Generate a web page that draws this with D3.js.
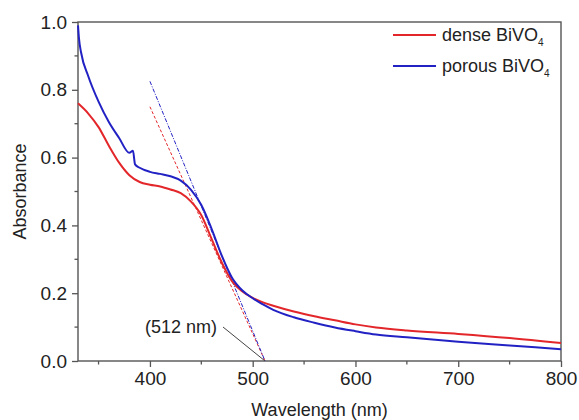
<!DOCTYPE html>
<html>
<head>
<meta charset="utf-8">
<script src="https://cdn.jsdelivr.net/npm/d3@7"></script>
<style>
  body { margin: 0; background: #fff; }
  text { font-family: Arial, "Liberation Sans", sans-serif; fill: #222; }
</style>
</head>
<body>
<svg id="chart" width="579" height="420"></svg>
<script>
// wavelength (nm) / absorbance
const denseWl  = [330, 340, 350, 360, 370, 380, 390, 400, 410, 420, 430, 440, 450, 460, 470, 480, 490, 500, 510, 520, 540, 560, 580, 600, 620, 650, 700, 750, 800];
const denseAbs = [0.76, 0.73, 0.69, 0.635, 0.585, 0.548, 0.528, 0.52, 0.515, 0.506, 0.495, 0.47, 0.43, 0.36, 0.29, 0.235, 0.205, 0.186, 0.173, 0.163, 0.146, 0.132, 0.12, 0.108, 0.099, 0.09, 0.08, 0.068, 0.053];

const porousWl  = [330, 331, 333, 340, 350, 360, 370, 380, 383.5, 385.5, 390, 400, 410, 420, 430, 440, 450, 460, 470, 480, 490, 500, 510, 520, 540, 560, 580, 600, 620, 650, 700, 750, 800];
const porousAbs = [0.99, 0.95, 0.91, 0.84, 0.765, 0.705, 0.658, 0.614, 0.62, 0.58, 0.57, 0.558, 0.552, 0.545, 0.532, 0.505, 0.46, 0.39, 0.31, 0.245, 0.208, 0.185, 0.167, 0.151, 0.129, 0.113, 0.099, 0.088, 0.078, 0.07, 0.057, 0.046, 0.035];

// tangent lines to the absorption edge, meeting the baseline at 512 nm
const tangentWl = [400, 512];
const denseTangent = [0.75, 0];
const porousTangent = [0.825, 0];

const xTicks = [400, 500, 600, 700, 800];
const yTicks = [0.0, 0.2, 0.4, 0.6, 0.8, 1.0];

const width = 579, height = 420;
const margin = { top: 22, right: 18, bottom: 59, left: 78 };

const red = "#e3262a";
const blue = "#2222c4";
const axisColor = "#555";

const svg = d3.select("#chart");

const x = d3.scaleLinear().domain([330, 800]).range([margin.left, width - margin.right]);
const y = d3.scaleLinear().domain([0, 1]).range([height - margin.bottom, margin.top]);

// frame
svg.append("rect")
  .attr("x", margin.left)
  .attr("y", margin.top)
  .attr("width", width - margin.left - margin.right)
  .attr("height", height - margin.top - margin.bottom)
  .attr("fill", "none")
  .attr("stroke", axisColor)
  .attr("stroke-width", 1.4);

// x axis
const xAxis = svg.append("g")
  .attr("transform", `translate(0,${height - margin.bottom})`)
  .call(d3.axisBottom(x).tickValues(xTicks).tickSize(6).tickPadding(5).tickFormat(d3.format("d")));
xAxis.select(".domain").remove();
xAxis.selectAll("line").attr("stroke", axisColor).attr("stroke-width", 1.3);
xAxis.selectAll("text").attr("font-size", 19).attr("fill", "#222");

svg.append("g")
  .attr("transform", `translate(0,${height - margin.bottom})`)
  .selectAll("line")
  .data(d3.range(350, 800, 100))
  .join("line")
  .attr("x1", d => x(d)).attr("x2", d => x(d))
  .attr("y1", 0).attr("y2", 3.5)
  .attr("stroke", axisColor).attr("stroke-width", 1.3);

// y axis
const yAxis = svg.append("g")
  .attr("transform", `translate(${margin.left},0)`)
  .call(d3.axisLeft(y).tickValues(yTicks).tickSize(6).tickPadding(5).tickFormat(d3.format(".1f")));
yAxis.select(".domain").remove();
yAxis.selectAll("line").attr("stroke", axisColor).attr("stroke-width", 1.3);
yAxis.selectAll("text").attr("font-size", 19).attr("fill", "#222");

svg.append("g")
  .attr("transform", `translate(${margin.left},0)`)
  .selectAll("line")
  .data(d3.range(0.1, 1, 0.2))
  .join("line")
  .attr("x1", 0).attr("x2", -3.5)
  .attr("y1", d => y(d)).attr("y2", d => y(d))
  .attr("stroke", axisColor).attr("stroke-width", 1.3);

// axis titles
svg.append("text")
  .attr("x", (margin.left + width - margin.right) / 2)
  .attr("y", 416)
  .attr("text-anchor", "middle")
  .attr("font-size", 18)
  .text("Wavelength (nm)");

svg.append("text")
  .attr("transform", `translate(26,${(margin.top + height - margin.bottom) / 2}) rotate(-90)`)
  .attr("text-anchor", "middle")
  .attr("font-size", 18)
  .text("Absorbance");

// tangent lines
const line = d3.line().x(d => x(d[0])).y(d => y(d[1]));

svg.append("path")
  .datum(d3.zip(tangentWl, denseTangent))
  .attr("d", line)
  .attr("fill", "none")
  .attr("stroke", red)
  .attr("stroke-width", 1)
  .attr("stroke-dasharray", "3,2");

svg.append("path")
  .datum(d3.zip(tangentWl, porousTangent))
  .attr("d", line)
  .attr("fill", "none")
  .attr("stroke", blue)
  .attr("stroke-width", 1)
  .attr("stroke-dasharray", "4,1.5,1,1.5");

// spectra
const curve = d3.line().x(d => x(d[0])).y(d => y(d[1])).curve(d3.curveMonotoneX);

svg.append("path")
  .datum(d3.zip(denseWl, denseAbs))
  .attr("d", curve)
  .attr("fill", "none")
  .attr("stroke", red)
  .attr("stroke-width", 2);

svg.append("path")
  .datum(d3.zip(porousWl, porousAbs))
  .attr("d", curve)
  .attr("fill", "none")
  .attr("stroke", blue)
  .attr("stroke-width", 2);

// annotation
svg.append("text")
  .attr("x", 145)
  .attr("y", 333)
  .attr("font-size", 18)
  .text("(512 nm)");

svg.append("line")
  .attr("x1", 223).attr("y1", 327)
  .attr("x2", x(512)).attr("y2", y(0))
  .attr("stroke", "#444")
  .attr("stroke-width", 1);

// legend
const legendItems = [
  { name: "dense BiVO", color: red },
  { name: "porous BiVO", color: blue }
];

const legend = svg.append("g")
  .selectAll("g")
  .data(legendItems)
  .join("g")
  .attr("transform", (d, i) => `translate(393,${35 + i * 31})`);

legend.append("line")
  .attr("x1", 0).attr("x2", 43)
  .attr("y1", 0).attr("y2", 0)
  .attr("stroke", d => d.color)
  .attr("stroke-width", 2);

const legendText = legend.append("text")
  .attr("x", 49)
  .attr("y", 6)
  .attr("font-size", 18);
legendText.append("tspan").text(d => d.name);
legendText.append("tspan").attr("font-size", 10).attr("dy", 5).text("4");
</script>
</body>
</html>
